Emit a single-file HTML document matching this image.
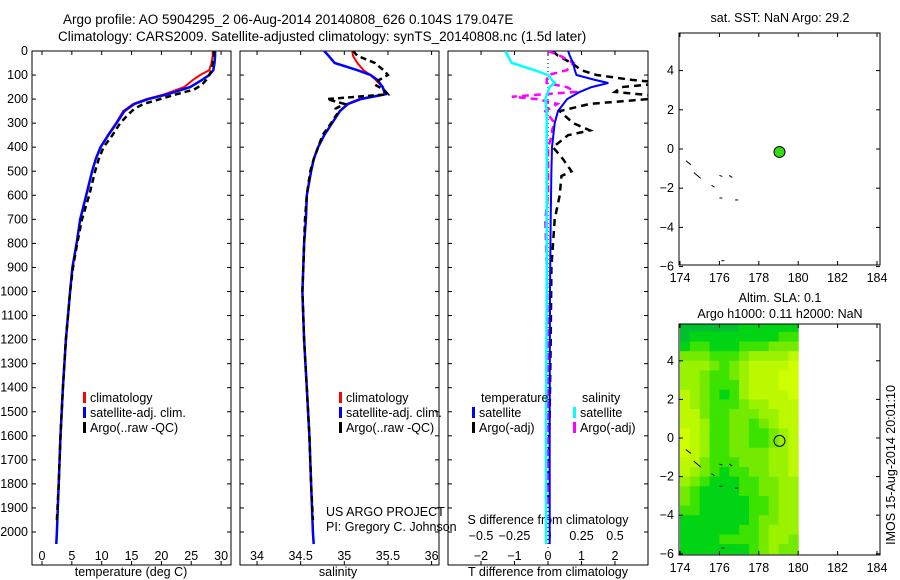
<!DOCTYPE html>
<html><head><meta charset="utf-8"><style>
body{margin:0;background:#fff;}
svg{display:block;font-family:"Liberation Sans",sans-serif;}
text{font-size:12.5px;fill:#000;}
</style></head><body>
<svg id="fig" width="900" height="580" viewBox="0 0 900 580" xmlns="http://www.w3.org/2000/svg">
<text x="63" y="24" style="font-size:13.5px">Argo profile: AO 5904295_2 06-Aug-2014 20140808_626 0.104S 179.047E</text>
<text x="58" y="41" style="font-size:13.5px">Climatology: CARS2009. Satellite-adjusted climatology: synTS_20140808.nc (1.5d later)</text>
<g id="g"></g>
</svg>
<script>
// ---- profile data ----
const depthC = [0,20,50,80,100,120,150,180,200,220,250,300,350,400,450,500,600,700,800,900,1000,1200,1400,1600,1800,2000,2050];
const tempClim = [28.6,28.6,28.4,28.0,26.5,25.3,23.8,20.5,17.5,15.3,13.6,12.4,11.0,9.8,9.0,8.4,7.4,6.4,5.8,5.1,4.7,4.0,3.5,3.1,2.8,2.5,2.4];
const tempSat = [29.0,29.0,28.9,28.7,28.0,26.8,24.8,21.0,17.8,15.5,13.8,12.5,11.1,9.8,9.0,8.4,7.4,6.4,5.8,5.1,4.7,4.0,3.5,3.1,2.8,2.5,2.4];
const salClim = [35.09,35.1,35.15,35.22,35.3,35.36,35.44,35.46,35.2,35.05,34.95,34.86,34.77,34.7,34.65,34.62,34.57,34.56,34.54,34.53,34.52,34.54,34.57,34.6,34.62,34.64,34.65];
const salSat = [34.77,34.82,34.89,35.15,35.3,35.38,35.44,35.47,35.18,35.04,34.95,34.86,34.77,34.7,34.65,34.62,34.57,34.56,34.54,34.53,34.52,34.54,34.57,34.6,34.62,34.64,34.65];
const depthA = [0,20,50,80,100,120,140,160,180,200,220,240,260,300,350,400,450,500,550,600,700,800,900,1000,1200,1400,1600,1800,1950];
const tempArgo = [28.8,28.8,28.6,28.4,28.0,27.5,26.8,25.5,22.5,19.8,17.0,15.5,14.6,13.1,11.8,10.3,9.5,8.9,8.4,7.9,6.7,5.9,5.2,4.7,4.0,3.5,3.1,2.8,2.5];
const salArgo = [35.1,35.15,35.35,35.45,35.5,35.4,35.35,35.45,35.5,34.8,35.0,34.9,34.92,34.85,34.75,34.7,34.65,34.61,34.59,34.57,34.55,34.54,34.53,34.52,34.54,34.57,34.6,34.62,34.64];
// ---- difference data ----
const depthD = [0,20,50,80,100,120,133,150,170,200,250,300,400,500,700,1000,1500,2000,2050];
const dTsat = [0.6,0.65,0.75,0.8,0.85,1.4,1.8,1.3,0.95,0.57,0.3,0.2,0.12,0.1,0.08,0.06,0.05,0.05,0.05];
const dSsat = [-0.32,-0.3,-0.27,-0.1,0,0.03,0.05,0.01,0,-0.02,-0.01,-0.01,-0.01,-0.01,-0.01,-0.01,-0.015,-0.015,-0.015];
const depthE = [0,20,50,80,100,120,133,150,170,190,200,220,250,300,330,350,400,450,500,520,600,700,900,1200,1500,1900];
const dTargo = [0.15,0.3,0.7,1.0,1.45,2.5,3.5,2.2,2.0,3.5,3.0,1.25,0.35,0.75,1.25,0.6,0.15,0.45,0.7,0.4,0.35,0.2,0.1,0.08,0.05,0.0];
const dSargo = [0,0.09,0.19,0.14,0,-0.01,-0.01,0.14,0.21,-0.27,-0.08,0.07,-0.02,0.05,0.03,0.03,0,0,0,0,0,-0.02,-0.01,0,0,0];
// ---- map data ----
const floatLon = 179.05, floatLat = -0.15;
const slaLons = [174,174.5,175,175.5,176,176.5,177,177.5,178,178.5,179,179.5];
const slaLats = [6,5.5,5,4.5,4,3.5,3,2.5,2,1.5,1,0.5,0,-0.5,-1,-1.5,-2,-2.5,-3,-3.5,-4,-4.5,-5,-5.5];
const slaGrid = [
[1,1,1,1,1,1,2,2,2,2,2,2],
[1,2,2,2,2,2,2,2,2,2,3,3],
[2,3,3,2,2,2,3,3,3,4,4,4],
[4,4,4,3,3,3,4,5,5,5,5,6],
[5,5,5,4,3,4,5,6,6,6,6,7],
[5,5,4,3,3,4,5,6,6,6,7,7],
[5,5,4,3,3,3,5,6,6,6,7,7],
[6,5,4,3,2,3,5,6,6,6,6,7],
[6,5,4,3,3,3,4,5,5,6,6,6],
[6,6,4,3,3,4,4,4,5,5,6,6],
[6,6,5,3,3,4,4,3,4,5,6,6],
[7,6,5,3,3,4,4,3,3,4,5,6],
[7,6,5,3,3,4,4,3,3,4,5,6],
[7,6,5,3,3,4,4,4,4,5,5,6],
[6,6,4,3,3,3,4,4,4,5,5,6],
[6,5,4,3,2,3,3,4,4,5,5,6],
[5,4,3,2,2,2,3,3,4,4,5,5],
[4,3,2,2,2,2,3,3,4,4,5,5],
[4,3,2,2,2,2,2,3,3,4,5,5],
[3,3,2,2,2,2,2,3,3,4,5,5],
[2,2,2,2,2,2,2,3,4,4,5,5],
[2,2,2,2,2,2,3,3,4,5,5,5],
[2,2,2,2,3,3,3,3,4,5,5,4],
[2,2,2,2,2,2,2,3,4,5,4,4]];
const coastLon = [[174.3,174.5],[174.7,175.0],[175.6,175.7],[176.0,176.1],[176.5,176.6],[176.0,176.1],[176.8,176.9],[176.1,176.2]];
const coastLat = [[-0.6,-0.8],[-1.2,-1.5],[-1.85,-1.95],[-1.35,-1.4],[-1.35,-1.45],[-2.5,-2.5],[-2.6,-2.6],[-5.7,-5.7]];
const depthTicks = [0,100,200,300,400,500,600,700,800,900,1000,1100,1200,1300,1400,1500,1600,1700,1800,1900,2000];
const tTicks = [0,5,10,15,20,25,30];
const sTicks = [34,34.5,35,35.5,36];
const dTTicks = [-2,-1,0,1,2];
const dSTicks = [-0.5,-0.25,0,0.25,0.5];
const lonTicks = [174,176,178,180,182,184];
const latTicks = [4,2,0,-2,-4,-6];

const NS='http://www.w3.org/2000/svg';
const G=document.getElementById('g');
function el(tag,attrs,parent){const e=document.createElementNS(NS,tag);for(const k in attrs)e.setAttribute(k,attrs[k]);(parent||G).appendChild(e);return e;}
function txt(x,y,s,anchor,parent){const t=el('text',{x:x,y:y,'text-anchor':anchor||'start'},parent);t.textContent=s;return t;}

const Y0=51, PY=0.2405;
const yD=d=>Y0+d*PY;
const xT=v=>42+v*5.97;
const xS=v=>257+(v-34)*87.3;
const xdT=v=>548+v*33.5;
const xdS=v=>548+v*134;
const TOP=51,BOT=565;

function box(x0,x1,y0,y1,name){const r=el('rect',{x:x0,y:y0,width:x1-x0,height:y1-y0,fill:'none',stroke:'#000','stroke-width':1});}
function line(xs,ys,color,w,dash,name,clip){const p=el('polyline',{points:xs.map((x,i)=>x.toFixed(1)+','+ys[i].toFixed(1)).join(' '),fill:'none',stroke:color,'stroke-width':w});if(dash)p.setAttribute('stroke-dasharray',dash);if(clip)p.setAttribute('clip-path',clip);}

const defs=el('defs',{});const cp=el('clipPath',{id:'c3'},defs);el('rect',{x:448,y:TOP,width:200,height:BOT-TOP},cp);

const panels=[[32,231],[240,439],[448,648]];
panels.forEach((p,i)=>{box(p[0],p[1],TOP,BOT,'profile-panel-'+(i+1)+'-frame');
 depthTicks.forEach(d=>{el('line',{x1:p[0],x2:p[0]+4,y1:yD(d),y2:yD(d),stroke:'#000'});el('line',{x1:p[1],x2:p[1]-4,y1:yD(d),y2:yD(d),stroke:'#000'});});});
depthTicks.forEach(d=>{const t=txt(28,yD(d)+4,String(d),'end');});
function xticks(vals,fx,fmt,y0,y1,labelY,name){vals.forEach(v=>{const x=fx(v);el('line',{x1:x,x2:x,y1:y1,y2:y1-4,stroke:'#000'});el('line',{x1:x,x2:x,y1:y0,y2:y0+4,stroke:'#000'});const t=txt(x,labelY,fmt(v),'middle');});}
xticks(tTicks,xT,v=>String(v),TOP,BOT,560,'temperature-tick-label');
xticks(sTicks,xS,v=>String(v),TOP,BOT,560,'salinity-tick-label');
xticks(dTTicks,xdT,v=>String(v).replace('-','−'),TOP,BOT,560,'t-diff-tick-label');
dSTicks.forEach(v=>{const t=txt(xdS(v),540,String(v).replace('-','−'),'middle');});
let t;
t=txt(131,576,'temperature (deg C)','middle');
t=txt(338,576,'salinity','middle');
t=txt(548,576,'T difference from climatology','middle');
t=txt(548,524,'S difference from climatology','middle');

line(tempClim.map(xT),depthC.map(yD),'#f00',2,null,'temp-climatology-line');
line(tempSat.map(xT),depthC.map(yD),'#00f',2.5,null,'temp-satellite-line');
line(tempArgo.map(xT),depthA.map(yD),'#000',2.5,'6,4','temp-argo-line');
line(salClim.map(xS),depthC.map(yD),'#f00',2,null,'sal-climatology-line');
line(salSat.map(xS),depthC.map(yD),'#00f',2.5,null,'sal-satellite-line');
line(salArgo.map(xS),depthA.map(yD),'#000',2.5,'6,4','sal-argo-line');
el('line',{x1:548,x2:548,y1:TOP,y2:BOT,stroke:'#000','stroke-dasharray':'1,3'});
line(dTargo.map(xdT),depthE.map(yD),'#000',2.5,'7,5','tdiff-argo-line','url(#c3)');
line(dSargo.map(xdS),depthE.map(yD),'#f0f',2.5,'7,5','sdiff-argo-line','url(#c3)');
line(dTsat.map(xdT),depthD.map(yD),'#00f',2,null,'tdiff-satellite-line','url(#c3)');
line(dSsat.map(xdS),depthD.map(yD),'#0ff',2.5,null,'sdiff-satellite-line','url(#c3)');

function leg(x,y,color,label,name){el('rect',{x:x,y:y-10,width:3,height:11,fill:color});const q=txt(x+7,y,label,'start');}
[[83],[339]].forEach(p=>{leg(p[0],402,'#f00','climatology','legend-climatology');leg(p[0],417,'#00f','satellite-adj. clim.','legend-satellite');leg(p[0],432,'#000','Argo(..raw -QC)','legend-argo');});
t=txt(481,402,'temperature');
t=txt(582,402,'salinity');
leg(472,417,'#00f','satellite','legend-t-satellite');leg(472,432,'#000','Argo(-adj)','legend-t-argo');
leg(573,417,'#0ff','satellite','legend-s-satellite');leg(573,432,'#f0f','Argo(-adj)','legend-s-argo');
t=txt(326,516,'US ARGO PROJECT');
t=txt(326,531,'PI: Gregory C. Johnson');

const xL=v=>680+(v-174)*19.7;
const yM1=v=>149-v*19.6;
const yM2=v=>438-v*19.3;
const PAL=['rgb(0,180,60)','rgb(0,192,48)','rgb(0,212,20)','rgb(60,226,0)','rgb(115,234,0)','rgb(155,242,0)','rgb(188,249,0)','rgb(208,255,0)'];
const col=v=>PAL[Math.max(0,Math.min(PAL.length-1,Math.round(v)))];
const cp2=el('clipPath',{id:'cm2'},defs);el('rect',{x:679,y:324,width:201,height:231},cp2);
slaGrid.forEach((row,r)=>row.forEach((v,c)=>{const x0=xL(slaLons[c]),y0=yM2(slaLats[r]);const cell=el('rect',{x:x0,y:y0,width:xL(slaLons[c]+0.5)-x0+0.5,height:yM2(slaLats[r]-0.5)-y0+0.5,fill:col(v),'clip-path':'url(#cm2)'});

}));
function mapFrame(y0,y1,fy,name){box(679,880,y0,y1,name);lonTicks.forEach(v=>{const x=xL(v);el('line',{x1:x,x2:x,y1:y0,y2:y0+4,stroke:'#000'});el('line',{x1:x,x2:x,y1:y1,y2:y1-4,stroke:'#000'});const q=txt(x,y1+17,String(v),'middle');});
latTicks.forEach(v=>{const y=fy(v);el('line',{x1:679,x2:683,y1:y,y2:y,stroke:'#000'});el('line',{x1:880,x2:876,y1:y,y2:y,stroke:'#000'});const q=txt(674,y+4,String(v).replace('-','−'),'end');});
coastLon.forEach((ln,i)=>{el('line',{x1:xL(ln[0]),x2:xL(ln[1])+1,y1:fy(coastLat[i][0]),y2:fy(coastLat[i][1]),stroke:'#000','stroke-width':1});});}
mapFrame(33,265,yM1,'sst-map-frame');
mapFrame(324,555,yM2,'sla-map-frame');
t=txt(780,22,'sat. SST: NaN Argo: 29.2','middle');
t=txt(780,302,'Altim. SLA: 0.1','middle');
t=txt(780,318,'Argo h1000: 0.11 h2000: NaN','middle');
const m1=el('circle',{cx:xL(floatLon),cy:yM1(floatLat),r:5.5,fill:'#33dd11',stroke:'#000','stroke-width':1});

const m2=el('circle',{cx:xL(floatLon),cy:yM2(floatLat),r:5.5,fill:'none',stroke:'#000','stroke-width':1});

t=txt(0,0,'IMOS 15-Aug-2014 20:01:10','middle');t.setAttribute('transform','translate(895,465) rotate(-90)');
</script>
</body></html>
